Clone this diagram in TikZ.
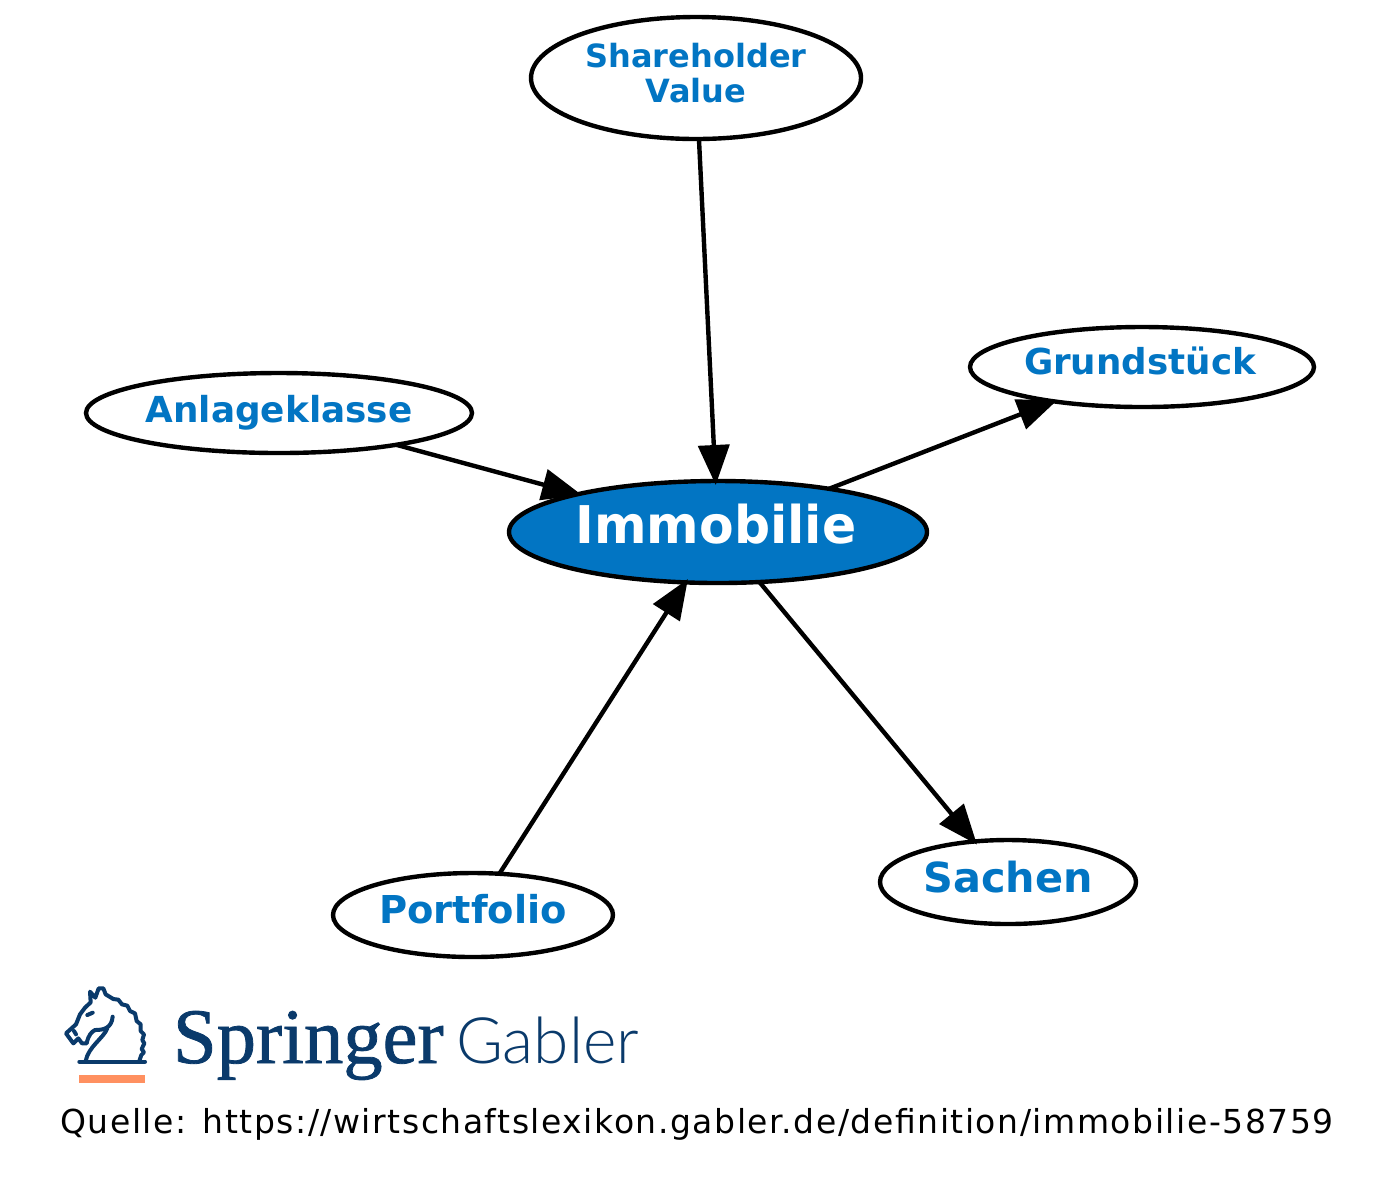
\documentclass[tikz,border=0pt]{standalone}
\usepackage{fontspec}
\setmainfont{DejaVu Sans}
\newfontfamily\sprfont[FakeBold=1.0]{Liberation Serif}
\newfontfamily\gabfont{Lato Light}
\newfontfamily\srcfont[LetterSpace=4.7]{DejaVu Sans}
\usetikzlibrary{shapes.geometric,arrows.meta}
\definecolor{gblue}{HTML}{0275C3}
\definecolor{sprblue}{HTML}{0A3A6B}
\definecolor{sprorange}{HTML}{FF9060}
\newcommand{\lblat}[2]{\raisebox{#1}{\smash{#2}}}
\newcommand{\fsz}[1]{\fontsize{#1pt}{17.5pt}\selectfont\bfseries}
\tikzset{
  x=0.5pt,y=-0.5pt,
  concept/.style={ellipse,draw=black,line width=2.2pt,fill=white,inner sep=0pt,outer sep=0pt,text=gblue},
  edge/.style={draw=black,line width=2.2pt,-{Triangle[length=20pt,width=15.5pt]},shorten >=-2pt},
  logotext/.style={anchor=base west,inner sep=0pt,outer sep=0pt,text=sprblue},
  horse/.style={draw=sprblue,line width=2pt,line join=round,line cap=round}
}
\begin{document}
\begin{tikzpicture}
\useasboundingbox[fill=white] (0,0) rectangle (1400,1185);
\node[concept,fill=gblue,text=white,minimum width=209pt,minimum height=51pt] (imm) at (718,532) {\fsz{26}\lblat{-11.5pt}{\hspace*{-2pt}\scalebox{.97}[1]{Immobilie}}};
\node[concept,minimum width=165pt,minimum height=61pt] (sh) at (696,78) {\fsz{16}\lblat{-9pt}{\begin{tabular}{@{}c@{}}Shareholder\\Value\end{tabular}}};
\node[concept,minimum width=172pt,minimum height=40pt] (gr) at (1142,367) {\fsz{17.85}\lblat{-7pt}{\hspace*{-2pt}Grundstück}};
\node[concept,minimum width=193pt,minimum height=40pt] (an) at (279,413) {\fsz{17.9}\lblat{-9pt}{Anlageklasse}};
\node[concept,minimum width=140pt,minimum height=42pt] (po) at (473,915) {\fsz{19.2}\lblat{-8.5pt}{Portfolio}};
\node[concept,minimum width=128pt,minimum height=42pt] (sa) at (1008,882) {\fsz{20.7}\lblat{-10pt}{Sachen}};
\draw[edge] (sh) -- (imm);
\draw[edge] (an) -- (imm);
\draw[edge] (imm) -- (gr);
\draw[edge] (imm) -- (sa);
\draw[edge] (po) -- (imm);
% logo
\begin{scope}[shift={(50,975)},x=0.16667pt,y=-0.16667pt]
\draw[horse] (88,260) -- (285,260);
\draw[horse] (268,258) -- (274,240) -- (282,232) -- (275,222) -- (283,205) -- (277,195) -- (282,178) -- (272,168) -- (272,148) -- (260,138) -- (255,115) -- (240,108) -- (232,92) -- (216,88) -- (205,74) -- (190,72) -- (167,58) -- (160,40) -- (146,40) -- (136,68) -- (120,50) -- (122,82) -- (105,98) -- (90,118) -- (78,148) -- (48,175) -- (70,205) -- (85,190) -- (96,205) -- (110,205) .. controls (115,180) and (125,170) .. (135,165) .. controls (160,165) and (185,160) .. (188,125);
\draw[horse] (172,160) .. controls (160,190) and (115,215) .. (107,258);
\draw[horse] (112,120) -- (128,113);
\draw[horse] (72,168) -- (78,178);
\fill[sprorange] (88,301) rectangle (285,325);
\end{scope}
\node[logotext,font=\fontsize{39.3pt}{40pt}\sprfont] (spr) at (173,1063) {Springer};
\node[logotext,font=\fontsize{32pt}{40pt}\gabfont] (gab) at (456,1063) {Gabler};
\node[anchor=base west,inner sep=0pt,text=black,font=\fontsize{16.5pt}{20pt}\srcfont] (src) at (60,1133) {Quelle: https://wirtschaftslexikon.gabler.de/definition/immobilie-58759};
\end{tikzpicture}
\end{document}
